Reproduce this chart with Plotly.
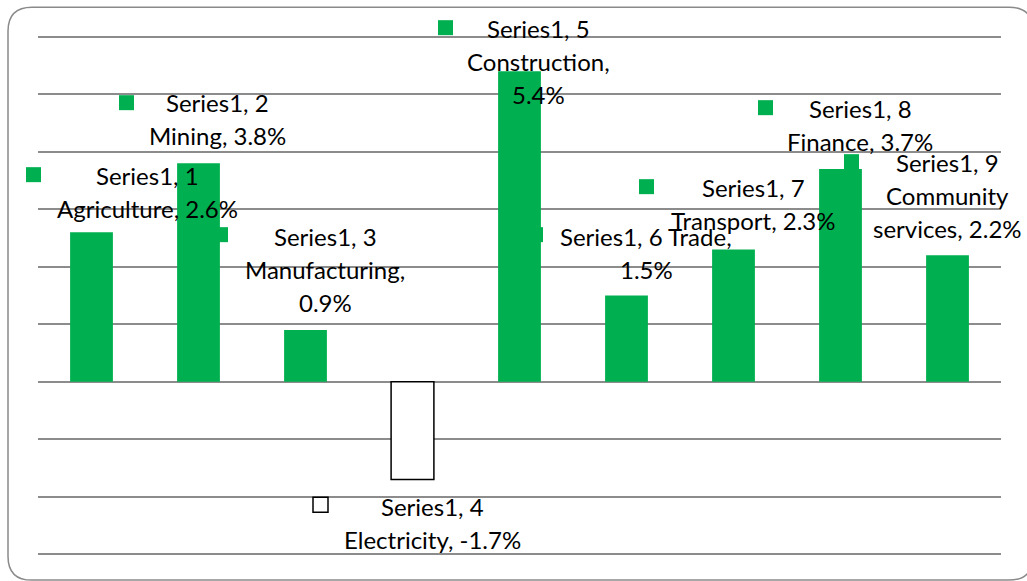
import plotly.graph_objects as go

# ---- data ----
sectors = ["Agriculture", "Mining", "Manufacturing", "Electricity", "Construction",
           "Trade", "Transport", "Finance", "Community services"]
growth = [2.6, 3.8, 0.9, -1.7, 5.4, 1.5, 2.3, 3.7, 2.2]
series_name = "Series1"
y_ticks = list(range(-3, 7))

# words per line for each wrapped data label
label_wrap = [[2, 2], [2, 2], [2, 1, 1], [2, 2], [2, 1, 1], [3, 1], [2, 2], [2, 2], [2, 1, 2]]
# label placement in page pixels: key-square left, key-square top, text centre x, first line y
label_pos = [
    (26, 167, 147, 175),
    (119, 95, 217, 102),
    (213, 227, 325, 236),
    (313, 497, 432, 506),
    (438, 20, 538, 28),
    (528, 227, 646, 236),
    (639, 179, 753, 187),
    (758, 100, 860, 108),
    (844, 154, 947, 162),
]

# ---- styling ----
W, H = 1027, 581
PAD = 0.05                            # headroom so the end gridlines are not clipped
L, R = 38, 1001                       # plot area in page pixels
UNIT = 517.3 / (y_ticks[-1] - y_ticks[0])
T = 36.7 - PAD * UNIT
B = 554.0 + PAD * UNIT
GREEN = "#00B050"
GRID = "#8c8c8c"
FONT = "Lato"
FONT_SIZE = 24
LINE_GAP = 33
KEY = 15


def px_x(px):
    return (px - L) / (R - L)


def px_y(py):
    return (B - py) / (B - T)


fill = [GREEN if v >= 0 else "white" for v in growth]
edge = [GREEN if v >= 0 else "black" for v in growth]
edge_w = [0 if v >= 0 else 1.5 for v in growth]

fig = go.Figure(go.Bar(
    x=list(range(len(sectors))),
    y=growth,
    width=0.4,
    marker=dict(color=fill, line=dict(color=edge, width=edge_w)),
    hoverinfo="skip",
))

shapes = []
annotations = []

# rounded outer frame (right side runs just past the page edge)
fl, ft, fr, fb, rad = 8, 7, 1033, 580, 24
pts = [
    ("M", fl + rad, ft), ("L", fr - rad, ft), ("Q", fr, ft, fr, ft + rad),
    ("L", fr, fb - rad), ("Q", fr, fb, fr - rad, fb), ("L", fl + rad, fb),
    ("Q", fl, fb, fl, fb - rad), ("L", fl, ft + rad), ("Q", fl, ft, fl + rad, ft),
]
path = ""
for p in pts:
    cmd, coords = p[0], p[1:]
    xy = []
    for i in range(0, len(coords), 2):
        xy.append(f"{px_x(coords[i]):.5f},{px_y(coords[i + 1]):.5f}")
    path += cmd + " " + " ".join(xy) + " "
path += "Z"
shapes.append(dict(type="path", xref="paper", yref="paper", path=path,
                   line=dict(color="#8a8a8a", width=1.5), fillcolor="rgba(0,0,0,0)",
                   layer="below"))

# data labels with legend keys
for i, (name, val) in enumerate(zip(sectors, growth)):
    words = f"{series_name}, {i + 1} {name}, {val:.1f}%".split(" ")
    kx, ky, cx, cy = label_pos[i]
    shapes.append(dict(
        type="rect", xref="paper", yref="paper",
        x0=px_x(kx), x1=px_x(kx + KEY), y0=px_y(ky + KEY), y1=px_y(ky),
        fillcolor=fill[i], line=dict(color=edge[i], width=1.5 if val < 0 else 0),
        layer="above",
    ))
    k = 0
    for j, n in enumerate(label_wrap[i]):
        line = " ".join(words[k:k + n])
        k += n
        annotations.append(dict(
            xref="paper", yref="paper", x=px_x(cx), y=px_y(cy + j * LINE_GAP),
            text=line, showarrow=False, xanchor="center", yanchor="middle",
            font=dict(family=FONT, size=FONT_SIZE, color="#000000"),
        ))

fig.update_layout(
    width=W, height=H,
    margin=dict(l=L, r=W - R, t=T, b=H - B, pad=0),
    paper_bgcolor="white", plot_bgcolor="white",
    showlegend=False,
    bargap=0.6,
    xaxis=dict(range=[-0.5, len(sectors) - 0.5], showticklabels=False, showgrid=False,
               zeroline=False, showline=False, ticks="", fixedrange=True),
    yaxis=dict(range=[y_ticks[0] - PAD, y_ticks[-1] + PAD], tickvals=y_ticks,
               showticklabels=False, showgrid=True, gridcolor=GRID, gridwidth=1.5,
               zeroline=False, showline=False, ticks="", fixedrange=True),
    shapes=shapes,
    annotations=annotations,
)

fig.write_html("out.html", config={"displayModeBar": False})
